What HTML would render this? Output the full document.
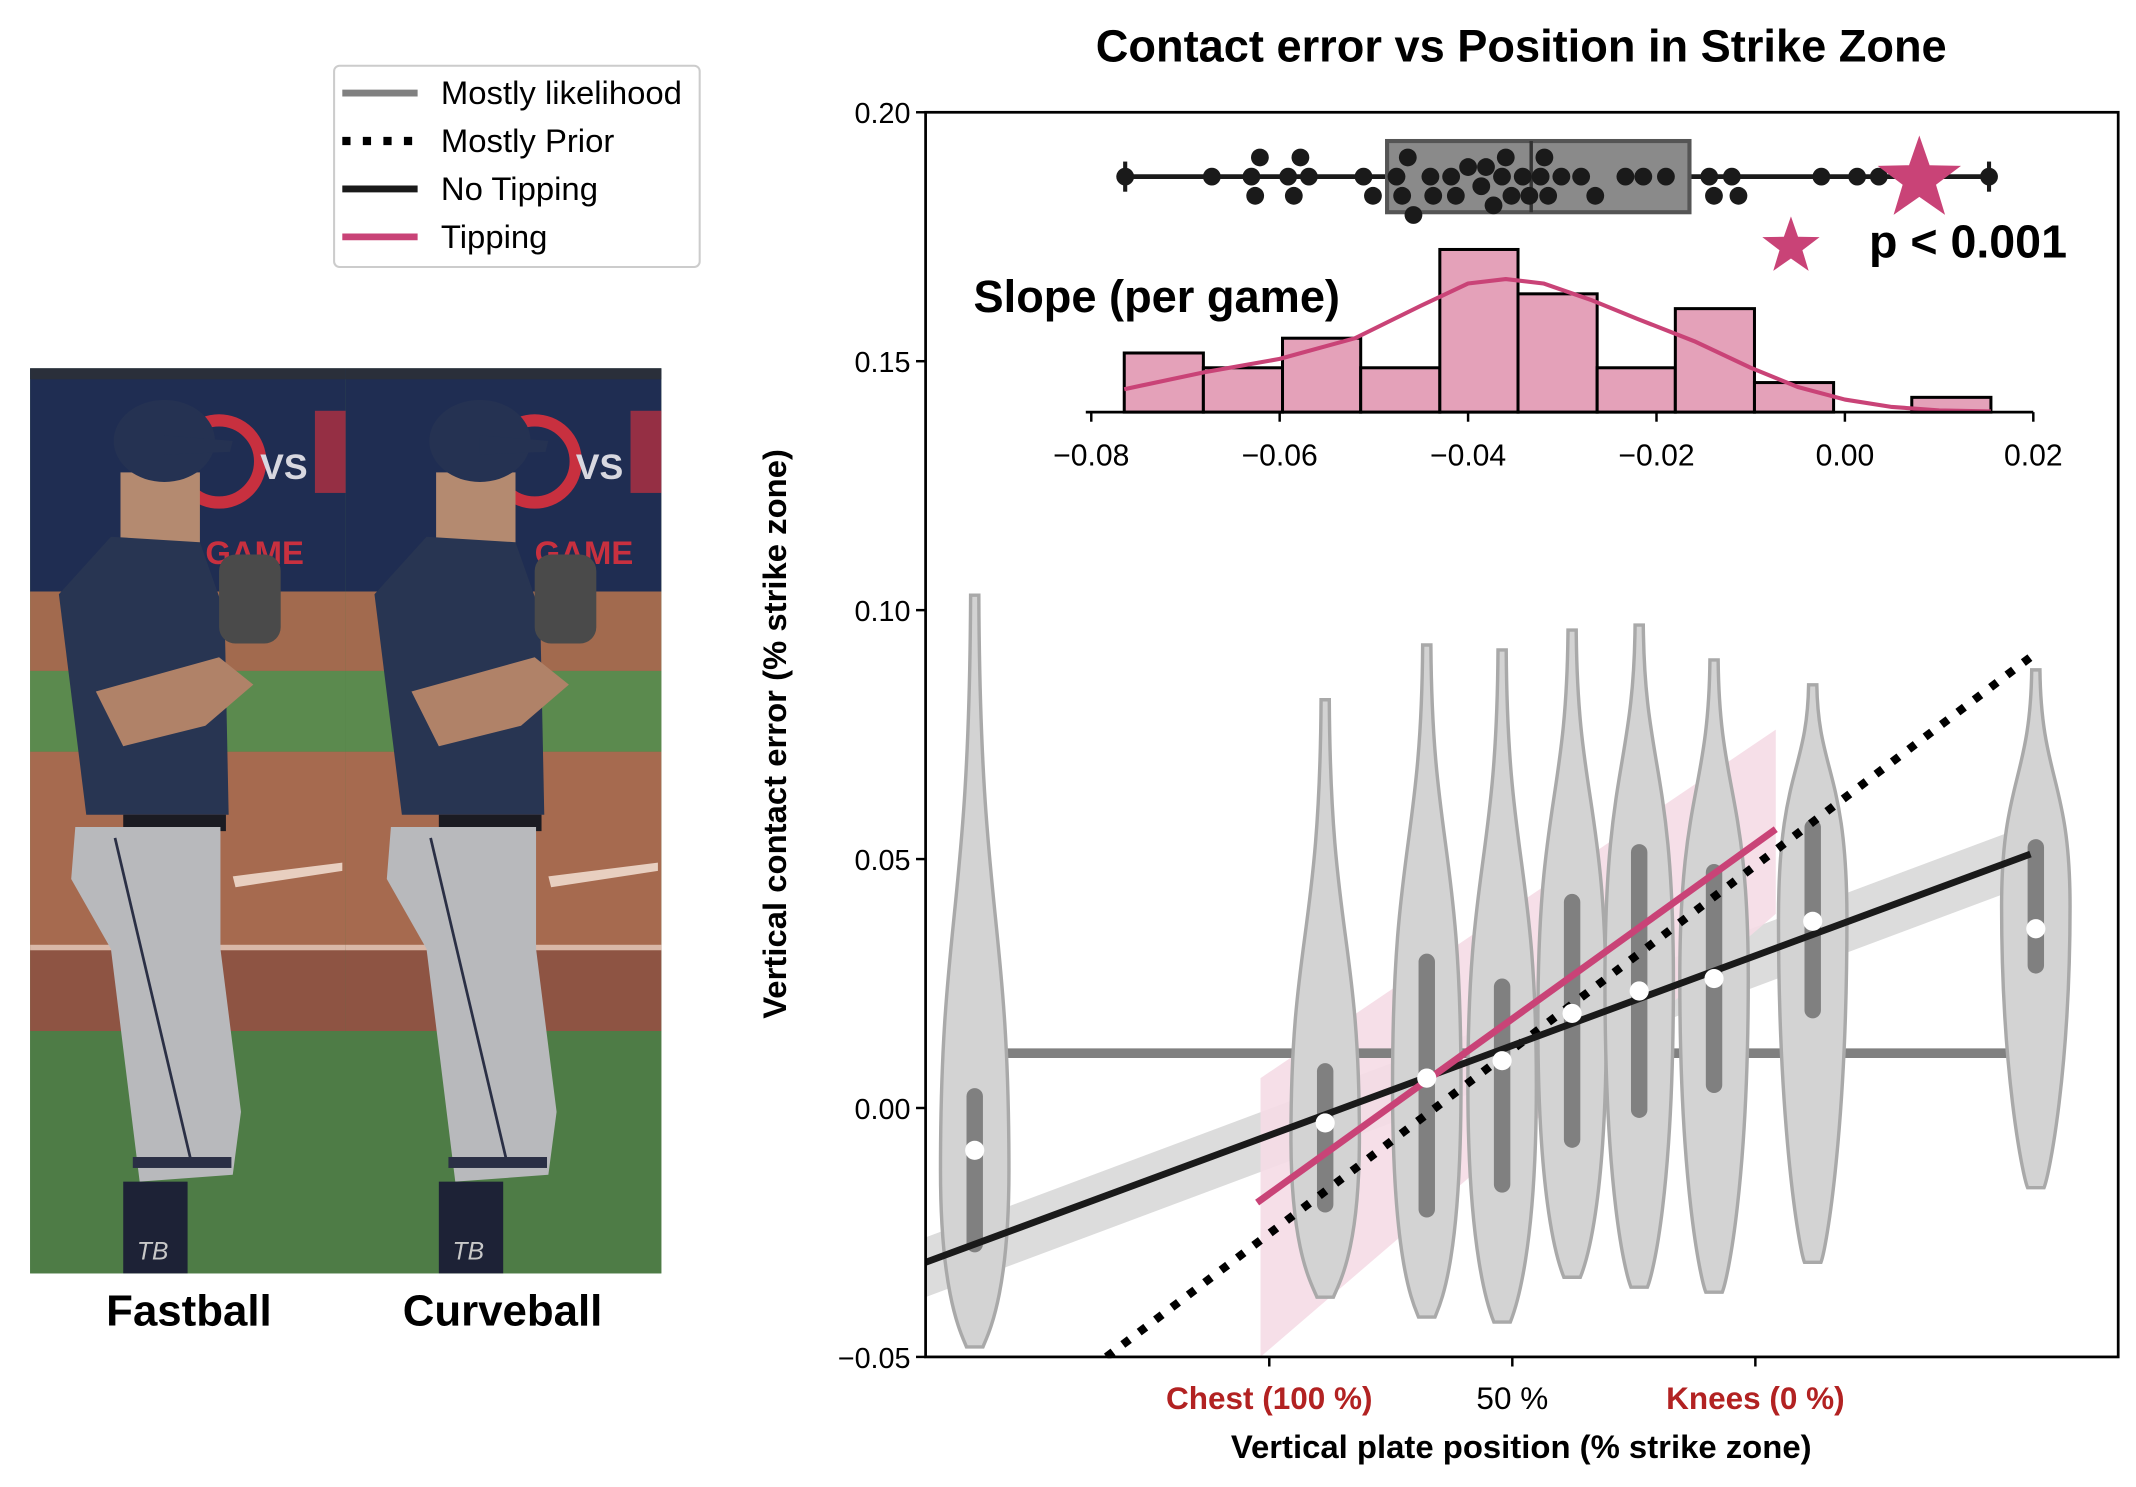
<!DOCTYPE html>
<html><head><meta charset="utf-8"><style>
html,body{margin:0;padding:0;background:#fff;}
svg{display:block;}
text{font-family:"Liberation Sans",Arial,sans-serif;}
</style></head><body>
<svg id="fig" width="2136" height="1487" viewBox="0 0 1560 1086" preserveAspectRatio="none" xmlns="http://www.w3.org/2000/svg">
<g id="photo"></g>
<text x="138" y="968" font-size="32" font-weight="bold" text-anchor="middle">Fastball</text>
<text x="367" y="968" font-size="32" font-weight="bold" text-anchor="middle">Curveball</text>
<g>
<rect x="244" y="48" width="267" height="147" rx="4" fill="#fff" stroke="#ccc" stroke-width="1.5"/>
<line x1="250" y1="68" x2="305" y2="68" stroke="#808080" stroke-width="5"/>
<text x="322" y="76" font-size="24">Mostly likelihood</text>
<line x1="250" y1="103" x2="305" y2="103" stroke="#000" stroke-width="6" stroke-dasharray="6,9"/>
<text x="322" y="111" font-size="24">Mostly Prior</text>
<line x1="250" y1="138" x2="305" y2="138" stroke="#1a1a1a" stroke-width="5"/>
<text x="322" y="146" font-size="24">No Tipping</text>
<line x1="250" y1="173" x2="305" y2="173" stroke="#c94377" stroke-width="5"/>
<text x="322" y="181" font-size="24">Tipping</text>
</g>
<text x="1111" y="45" font-size="33" font-weight="bold" text-anchor="middle">Contact error vs Position in Strike Zone</text>
<g id="main"></g>
<g id="inset"></g>
<text transform="translate(574,536) rotate(-90)" font-size="24" font-weight="bold" text-anchor="middle">Vertical contact error (% strike zone)</text>
<text x="1111" y="1065" font-size="24" font-weight="bold" text-anchor="middle">Vertical plate position (% strike zone)</text>
<text x="711" y="228" font-size="33" font-weight="bold">Slope (per game)</text>
<text x="1365" y="188" font-size="34" font-weight="bold">p &lt; 0.001</text>
</svg>
<script>
const NS="http://www.w3.org/2000/svg";
function mk(parent,tag,attrs){const e=document.createElementNS(NS,tag);for(const k in attrs)e.setAttribute(k,attrs[k]);parent.appendChild(e);return e;}

// ---------- main chart data ----------
const yTicks=[0.20,0.15,0.10,0.05,0.00,-0.05];
const yTickLabels=["0.20","0.15","0.10","0.05","0.00","\u22120.05"];
const xTickValues=[100,50,0];
const xTickLabels=["Chest (100 %)","50 %","Knees (0 %)"];
const violinPos=[160.6,88.5,67.6,52.1,37.7,23.9,8.5,-11.8,-57.7];
const violinTop=[0.103,0.082,0.093,0.092,0.096,0.097,0.090,0.085,0.088];
const violinBottom=[-0.048,-0.038,-0.042,-0.043,-0.034,-0.036,-0.037,-0.031,-0.016];
const violinQ3=[0.004,0.009,0.031,0.026,0.043,0.053,0.049,0.058,0.054];
const violinQ1=[-0.029,-0.021,-0.022,-0.017,-0.008,-0.002,0.003,0.018,0.027];
const violinMedian=[-0.0085,-0.003,0.006,0.0095,0.019,0.0235,0.026,0.0375,0.036];
const noTipX=[170.7,-56.6], noTipY=[-0.031,0.051];
const priorX=[133.5,-57.2], priorY=[-0.05,0.091];
const tipX=[102.5,-4.2], tipY=[-0.019,0.056];
const tipBandX=[101.8,-4.2], tipBandLo=[-0.05,0.039], tipBandHi=[0.006,0.076];
const likeX=[157.7,-54.9], likeY=[0.011,0.011];

const L=676,R=1547,T=82,B=991;
const yS=v=>B-(v+0.05)/0.25*(B-T);
const xS=v=>1282-v*3.55;

const main=document.getElementById('main');
const nb=mk(main,'polygon',{points:[[L,yS(-0.026)],[1483,yS(0.057)],[1483,yS(0.045)],[L,yS(-0.038)]].map(p=>p.join(',')).join(' '),fill:'#dcdcdc'});


const tb=mk(main,'polygon',{points:[[xS(tipBandX[0]),yS(tipBandHi[0])],[xS(tipBandX[1]),yS(tipBandHi[1])],[xS(tipBandX[1]),yS(tipBandLo[1])],[xS(tipBandX[0]),yS(tipBandLo[0])]].map(p=>p.join(',')).join(' '),fill:'#f5dce5',opacity:0.9});


const ll=mk(main,'line',{x1:xS(likeX[0]),y1:yS(likeY[0]),x2:xS(likeX[1]),y2:yS(likeY[1]),stroke:'#808080','stroke-width':7});


for(let i=0;i<violinPos.length;i++){
  const cx=xS(violinPos[i]);const w=25;
  const t=yS(violinTop[i]),b=yS(violinBottom[i]),q3=yS(violinQ3[i]),q1=yS(violinQ1[i]);
  const up=q3-(q3-t)*0.35, lo=q1+(b-q1)*0.45;
  const d=`M${cx-3},${t} L${cx+3},${t} C${cx+4},${up} ${cx+w},${up} ${cx+w},${(q3+q1)/2} C${cx+w},${lo} ${cx+10},${b-10} ${cx+6},${b} L${cx-6},${b} C${cx-10},${b-10} ${cx-w},${lo} ${cx-w},${(q3+q1)/2} C${cx-w},${up} ${cx-4},${up} ${cx-3},${t} Z`;
  const v=mk(main,'path',{d:d,fill:'#d3d3d3',stroke:'#a9a9a9','stroke-width':2.5});
  
  
  const bx=mk(main,'rect',{x:cx-6,y:q3,width:12,height:q1-q3,rx:6,fill:'#808080'});
  
  
}
const dl=mk(main,'line',{x1:xS(priorX[0]),y1:yS(priorY[0]),x2:xS(priorX[1]),y2:yS(priorY[1]),stroke:'#000','stroke-width':6,'stroke-dasharray':'6,9'});


const bl=mk(main,'line',{x1:xS(noTipX[0]),y1:yS(noTipY[0]),x2:xS(noTipX[1]),y2:yS(noTipY[1]),stroke:'#1a1a1a','stroke-width':5});


const pl=mk(main,'line',{x1:xS(tipX[0]),y1:yS(tipY[0]),x2:xS(tipX[1]),y2:yS(tipY[1]),stroke:'#c94377','stroke-width':5});


for(let i=0;i<violinPos.length;i++){
  const m=mk(main,'circle',{cx:xS(violinPos[i]),cy:yS(violinMedian[i]),r:7,fill:'#fff'});
  
  
}
mk(main,'rect',{x:0,y:B+1,width:1560,height:95,fill:'#fff'});
mk(main,'rect',{x:600,y:T,width:L-600,height:B-T+1,fill:'#fff'});
const fr=mk(main,'rect',{x:L,y:T,width:R-L,height:B-T,fill:'none',stroke:'#000','stroke-width':2});


yTicks.forEach((v,i)=>{
  mk(main,'line',{x1:L-7,y1:yS(v),x2:L,y2:yS(v),stroke:'#000','stroke-width':1.8});
  const t=mk(main,'text',{x:L-11,y:yS(v)+8,'font-size':21,'text-anchor':'end'});t.textContent=yTickLabels[i];
  
  
});
xTickValues.forEach((v,i)=>{
  mk(main,'line',{x1:xS(v),y1:B,x2:xS(v),y2:B+7,stroke:'#000','stroke-width':1.8});
  const t=mk(main,'text',{x:xS(v),y:B+38,'font-size':23,'text-anchor':'middle','font-weight':i===1?'normal':'bold',fill:i===1?'#000':'#b22222'});t.textContent=xTickLabels[i];
  
  
});

// ---------- inset data ----------
const histEdges=[-0.0765,-0.0681,-0.0597,-0.0514,-0.0430,-0.0347,-0.0263,-0.0180,-0.0096,-0.0012,0.0071,0.0155];
const histCounts=[4,3,5,3,11,8,3,7,2,0,1];
const kdeX=[-0.0765,-0.068,-0.06,-0.052,-0.045,-0.04,-0.036,-0.032,-0.027,-0.022,-0.016,-0.01,-0.005,0.0,0.005,0.01,0.0155];
const kdeY=[1.55,2.7,3.6,5.0,7.2,8.7,9.0,8.7,7.6,6.3,4.8,3.0,1.7,0.85,0.35,0.12,0.05];
const slopes=[-0.0764,-0.0672,-0.0630,-0.0626,-0.0621,-0.0591,-0.0585,-0.0578,-0.0569,-0.0511,-0.0501,-0.0476,-0.0470,-0.0464,-0.0458,-0.0440,-0.0437,-0.0418,-0.0413,-0.0400,-0.0386,-0.0381,-0.0373,-0.0364,-0.0360,-0.0354,-0.0342,-0.0335,-0.0323,-0.0319,-0.0315,-0.0301,-0.0280,-0.0265,-0.0233,-0.0214,-0.0190,-0.0144,-0.0139,-0.0120,-0.0113,-0.0025,0.0013,0.0036,0.0153];
const boxStats=[-0.0764,-0.0486,-0.0333,-0.0165,0.0153];
const tippingSlope=0.0079;
const insetTicks=[-0.08,-0.06,-0.04,-0.02,0.00,0.02];
const insetTickLabels=["\u22120.08","\u22120.06","\u22120.04","\u22120.02","0.00","0.02"];

const IB=301;
const ix=v=>797+(v+0.08)/0.1*688;
const iy=c=>IB-c*10.8;
const inset=document.getElementById('inset');
for(let i=0;i<histCounts.length;i++){
  if(histCounts[i]===0)continue;
  const r=mk(inset,'rect',{x:ix(histEdges[i]),y:iy(histCounts[i]),width:ix(histEdges[i+1])-ix(histEdges[i]),height:IB-iy(histCounts[i]),fill:'#e4a1b9',stroke:'#000','stroke-width':2.2});
  
  
}
let kd='';kdeX.forEach((v,i)=>{kd+=(i?'L':'M')+ix(v)+','+iy(kdeY[i]);});
const kp=mk(inset,'path',{d:kd,fill:'none',stroke:'#c94377','stroke-width':3,'stroke-linejoin':'round'});


mk(inset,'line',{x1:793,y1:IB,x2:1485,y2:IB,stroke:'#000','stroke-width':2});
insetTicks.forEach((v,i)=>{
  mk(inset,'line',{x1:ix(v),y1:IB,x2:ix(v),y2:IB+7,stroke:'#000','stroke-width':1.8});
  const t=mk(inset,'text',{x:ix(v),y:IB+39,'font-size':22,'text-anchor':'middle'});t.textContent=insetTickLabels[i];
  
  
});
const BY=129;
mk(inset,'line',{x1:ix(boxStats[0]),y1:BY,x2:ix(boxStats[4]),y2:BY,stroke:'#1a1a1a','stroke-width':3.5});
mk(inset,'line',{x1:ix(boxStats[0]),y1:BY-11,x2:ix(boxStats[0]),y2:BY+11,stroke:'#1a1a1a','stroke-width':3});
mk(inset,'line',{x1:ix(boxStats[4]),y1:BY-11,x2:ix(boxStats[4]),y2:BY+11,stroke:'#1a1a1a','stroke-width':3});
const bxr=mk(inset,'rect',{x:ix(boxStats[1]),y:BY-26,width:ix(boxStats[3])-ix(boxStats[1]),height:52,fill:'#8a8a8a',stroke:'#555','stroke-width':3});


mk(inset,'line',{x1:ix(boxStats[2]),y1:BY-26,x2:ix(boxStats[2]),y2:BY+26,stroke:'#333','stroke-width':2.5});
const placed=[];const rr=6.5;
slopes.forEach(v=>{
  const x=ix(v);let off=0,k=0;
  const ok=o=>placed.every(p=>Math.hypot(p[0]-x,p[1]-(BY+o))>=2*rr);
  while(!ok(off)){k++;off=(k%2?1:-1)*Math.ceil(k/2)*7;}
  placed.push([x,BY+off]);
  const c=mk(inset,'circle',{cx:x,cy:BY+off,r:rr,fill:'#1a1a1a'});
  
  
});
function star(cx,cy,R,name){
  let pts=[];for(let i=0;i<10;i++){const a=-Math.PI/2+i*Math.PI/5;const r=i%2?R*0.4:R;pts.push((cx+r*Math.cos(a))+','+(cy+r*Math.sin(a)));}
  const s=mk(inset,'polygon',{points:pts.join(' '),fill:'#c94377'});
  
  
}
star(ix(tippingSlope),BY+2,32,'tipping-slope-star');
star(1308,180,22,'significance-star');

// ---------- photo ----------
const ph=document.getElementById('photo');
mk(ph,'rect',{x:22,y:269,width:461,height:661,fill:'#4f7d45'});
function half(ox,variant){
  const g=mk(ph,'g',{transform:`translate(${ox},0)`});
  mk(g,'rect',{x:22,y:269,width:230.5,height:163,fill:'#1f2d52'});
  mk(g,'rect',{x:22,y:269,width:230.5,height:8,fill:'#2a2f3a'});
  mk(g,'rect',{x:22,y:432,width:230.5,height:58,fill:'#a26a4e'});
  mk(g,'rect',{x:22,y:490,width:230.5,height:59,fill:'#5b8a4e'});
  mk(g,'rect',{x:22,y:549,width:230.5,height:144,fill:'#a66a4f'});
  mk(g,'rect',{x:22,y:693,width:230.5,height:60,fill:'#8e5443'});
  mk(g,'rect',{x:22,y:753,width:230.5,height:177,fill:'#4e7c46'});
  mk(g,'polygon',{points:'170,640 250,630 250,636 172,648',fill:'#e8cfc0'});
  mk(g,'rect',{x:22,y:690,width:230.5,height:4,fill:'#d9b8a8'});
  mk(g,'circle',{cx:160,cy:337,r:30,fill:'none',stroke:'#c8303f','stroke-width':9});
  const vs=mk(g,'text',{x:190,y:350,'font-size':26,'font-weight':'bold',fill:'#d8d8e0'});vs.textContent='VS';
  const gm=mk(g,'text',{x:variant?160:150,y:412,'font-size':24,'font-weight':'bold',fill:'#c8303f'});gm.textContent='GAME';
  mk(g,'rect',{x:230,y:300,width:22.5,height:60,fill:'#c8303f',opacity:0.7});
  mk(g,'rect',{x:88,y:345,width:58,height:55,fill:'#b48a70'});
  mk(g,'ellipse',{cx:120,cy:322,rx:37,ry:30,fill:'#253252'});
  mk(g,'polygon',{points:'120,318 170,322 168,330 120,332',fill:'#253252'});
  mk(g,'polygon',{points:'43,434 81,392 146,396 164,447 167,595 63,595',fill:'#283552'});
  mk(g,'polygon',{points:'70,505 160,480 185,500 150,530 90,545',fill:'#b08268'});
  mk(g,'rect',{x:160,y:405,width:45,height:65,rx:12,fill:'#4a4a4a'});
  mk(g,'rect',{x:90,y:595,width:75,height:12,fill:'#1b1b22'});
  mk(g,'polygon',{points:'55,604 161,604 161,693 176,812 170,858 102,863 81,693 52,642',fill:'#b8b9bc'});
  mk(g,'line',{x1:84,y1:612,x2:140,y2:850,stroke:'#2a2f45','stroke-width':2});
  mk(g,'rect',{x:97,y:845,width:72,height:8,fill:'#2a2f45'});
  mk(g,'rect',{x:90,y:863,width:47,height:67,fill:'#1d2236'});
  const tbt=mk(g,'text',{x:100,y:920,'font-size':18,'font-style':'italic',fill:'#c8c8c8'});tbt.textContent='TB';
}
half(0,false);half(230.5,true);
</script>
</body></html>
